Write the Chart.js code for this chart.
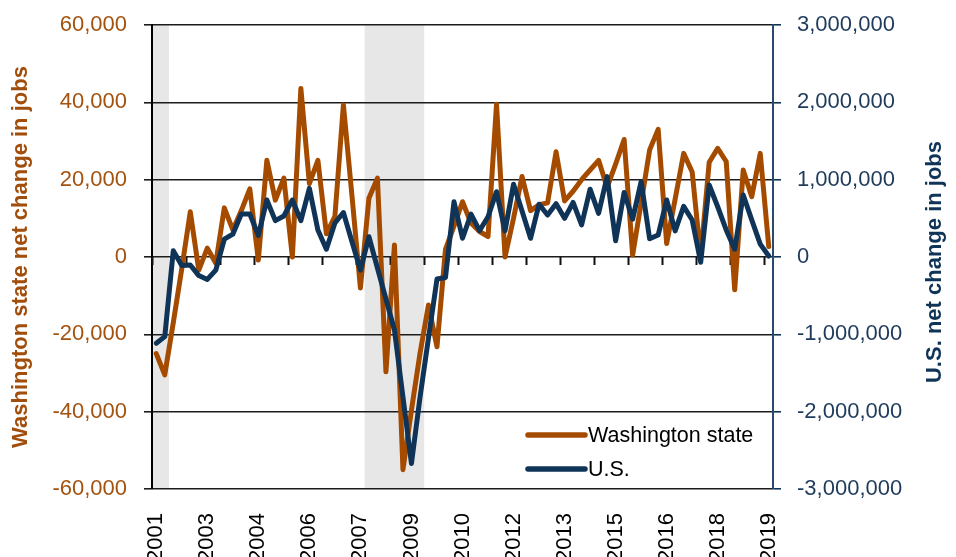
<!DOCTYPE html>
<html>
<head>
<meta charset="utf-8">
<title>Net change in jobs</title>
<script src="https://cdn.jsdelivr.net/npm/chart.js@4.4.1/dist/chart.umd.min.js"></script>
<style>
  html, body { margin: 0; padding: 0; background: #fff; }
  #wrap { width: 956px; height: 557px; }
</style>
</head>
<body>
<div id="wrap"><canvas id="jobs" width="956" height="557"></canvas></div>
<script>
// quarterly categories, 2001 Q3 .. 2019 Q3
const quarters = [
  '2001 Q3', '2001 Q4',
  '2002 Q1', '2002 Q2', '2002 Q3', '2002 Q4',
  '2003 Q1', '2003 Q2', '2003 Q3', '2003 Q4',
  '2004 Q1', '2004 Q2', '2004 Q3', '2004 Q4',
  '2005 Q1', '2005 Q2', '2005 Q3', '2005 Q4',
  '2006 Q1', '2006 Q2', '2006 Q3', '2006 Q4',
  '2007 Q1', '2007 Q2', '2007 Q3', '2007 Q4',
  '2008 Q1', '2008 Q2', '2008 Q3', '2008 Q4',
  '2009 Q1', '2009 Q2', '2009 Q3', '2009 Q4',
  '2010 Q1', '2010 Q2', '2010 Q3', '2010 Q4',
  '2011 Q1', '2011 Q2', '2011 Q3', '2011 Q4',
  '2012 Q1', '2012 Q2', '2012 Q3', '2012 Q4',
  '2013 Q1', '2013 Q2', '2013 Q3', '2013 Q4',
  '2014 Q1', '2014 Q2', '2014 Q3', '2014 Q4',
  '2015 Q1', '2015 Q2', '2015 Q3', '2015 Q4',
  '2016 Q1', '2016 Q2', '2016 Q3', '2016 Q4',
  '2017 Q1', '2017 Q2', '2017 Q3', '2017 Q4',
  '2018 Q1', '2018 Q2', '2018 Q3', '2018 Q4',
  '2019 Q1', '2019 Q2', '2019 Q3'
]

// Washington state net change in jobs (left axis)
const waJobs = [
  -25000, -30500, -17000, -3000, 11700, -3400, 2300, -1600, 12700, 7000, 12000, 17600,
  -800, 25000, 14700, 20400, 0, 43600, 19000, 25000, 6000, 10500, 39300, 16000,
  -8000, 15200, 20400, -29700, 3100, -55000, -39600, -25000, -12400, -23200, 2000, 8000,
  14300, 8800, 6600, 5300, 39500, 0, 10000, 20800, 12000, 13500, 14000, 27200,
  14500, 17000, 20000, 22500, 25000, 18000, 24000, 30400, 500, 14000, 27700, 33000,
  3500, 15000, 26800, 22000, 0, 24500, 28100, 24700, -8500, 22500, 15600, 26800,
  2700
]

// U.S. net change in jobs (right axis)
const usJobs = [
  -1116000, -1030000, 80000, -110000, -103000, -240000, -290000, -170000, 230000, 295000, 555000, 555000,
  280000, 737000, 470000, 530000, 737000, 470000, 888000, 350000, 100000, 440000, 575000, 200000,
  -170000, 262000, -142000, -543000, -944000, -1810000, -2670000, -1820000, -1050000, -285000, -265000, 715000,
  242000, 555000, 340000, 520000, 844000, 338000, 940000, 595000, 242000, 683000, 543000, 690000,
  500000, 705000, 414000, 877000, 565000, 1040000, 210000, 834000, 490000, 974000, 235000, 284000,
  737000, 338000, 655000, 478000, -67000, 931000, 650000, 350000, 100000, 802000, 480000, 166000,
  13000
]

// shaded recession quarters (first, last)
const recessions = [['2001 Q3', '2001 Q4'], ['2007 Q4', '2009 Q2']]

const seriesNames = ['Washington state', 'U.S.']
const leftTitle = 'Washington state net change in jobs'
const rightTitle = 'U.S. net change in jobs'

const ORANGE = '#A54B00'
const NAVY = '#0F3457'
const FONT = "'Liberation Sans', Arial, sans-serif"

Chart.defaults.font.family = FONT
Chart.defaults.font.size = 22

const fmt = (v) => Number(v).toLocaleString('en-US')

// gray recession bands behind everything
const recessionBands = {
  id: 'recessionBands',
  beforeDraw(chart) {
    const { ctx, chartArea, scales: { x } } = chart
    const half = (x.getPixelForValue(1) - x.getPixelForValue(0)) / 2
    ctx.save()
    ctx.fillStyle = '#E7E7E7'
    recessions.forEach(([from, to]) => {
      const x0 = Math.max(chartArea.left, x.getPixelForValue(quarters.indexOf(from)) - half)
      const x1 = Math.min(chartArea.right, x.getPixelForValue(quarters.indexOf(to)) + half)
      ctx.fillRect(x0, chartArea.top, x1 - x0, chartArea.bottom - chartArea.top)
    })
    ctx.restore()
  }
}

// small yearly tick marks hanging off the zero line
const zeroTicks = {
  id: 'zeroTicks',
  beforeDatasetsDraw(chart) {
    const { ctx, scales: { x, y } } = chart
    const half = (x.getPixelForValue(1) - x.getPixelForValue(0)) / 2
    const y0 = y.getPixelForValue(0)
    ctx.save()
    ctx.strokeStyle = '#111'
    ctx.lineWidth = 2
    ctx.beginPath()
    for (let i = 0; i < quarters.length; i += 4) {
      const px = Math.round(x.getPixelForValue(i) - half) + 0.5
      ctx.moveTo(px, y0)
      ctx.lineTo(px, y0 + 8)
    }
    ctx.stroke()
    ctx.restore()
  }
}

// legend inside the plot, bottom right, plus the right-hand title (reads bottom to top)
const extras = {
  id: 'extras',
  afterDraw(chart) {
    const { ctx, chartArea } = chart
    ctx.save()
    const x0 = chartArea.right - 245
    chart.data.datasets.forEach((ds, r) => {
      const yy = chartArea.bottom - 54 + r * 34
      ctx.strokeStyle = ds.borderColor
      ctx.lineWidth = 5.5
      ctx.lineCap = 'round'
      ctx.beginPath()
      ctx.moveTo(x0, yy)
      ctx.lineTo(x0 + 57, yy)
      ctx.stroke()
      ctx.fillStyle = '#000'
      ctx.font = '21.5px ' + FONT
      ctx.textAlign = 'left'
      ctx.textBaseline = 'middle'
      ctx.fillText(ds.label, x0 + 60, yy + 1)
    })

    ctx.translate(chart.width - 21, (chartArea.top + chartArea.bottom) / 2 + 5)
    ctx.rotate(-Math.PI / 2)
    ctx.font = 'bold 22px ' + FONT
    ctx.fillStyle = NAVY
    ctx.textAlign = 'center'
    ctx.textBaseline = 'middle'
    ctx.fillText(rightTitle, 0, 0)
    ctx.restore()
  }
}

// fixed axis widths; drop the auto top/bottom padding the y ticks ask for
const fitY = (w) => (s) => {
  s.width = w
  s.paddingTop = 0
  s.paddingBottom = 0
}

new Chart(document.getElementById('jobs'), {
  type: 'line',
  data: {
    labels: quarters,
    datasets: [
      {
        label: seriesNames[0],
        data: waJobs,
        yAxisID: 'y',
        borderColor: ORANGE,
        borderWidth: 5,
        borderJoinStyle: 'round',
        borderCapStyle: 'round',
        pointRadius: 0,
        tension: 0,
        order: 1,
      },
      {
        label: seriesNames[1],
        data: usJobs,
        yAxisID: 'y1',
        borderColor: NAVY,
        borderWidth: 5,
        borderJoinStyle: 'round',
        borderCapStyle: 'round',
        pointRadius: 0,
        tension: 0,
        order: 0,
      },
    ],
  },
  options: {
    responsive: false,
    animation: false,
    layout: { padding: { top: 25, left: 0, right: 0, bottom: 0 } },
    plugins: {
      legend: { display: false },
      tooltip: { enabled: false },
    },
    scales: {
      x: {
        type: 'category',
        offset: true,
        grid: { display: false, drawTicks: false },
        border: { display: false },
        ticks: {
          autoSkip: false,
          minRotation: 90,
          maxRotation: 90,
          padding: 24,
          color: '#000',
          font: { size: 22 },
          callback: (value, index) => (index % 6 === 0 ? quarters[index].slice(0, 4) : ''),
        },
        afterFit: (s) => { s.height = 68 },
      },
      y: {
        position: 'left',
        min: -60000,
        max: 60000,
        ticks: { stepSize: 20000, color: '#A3520F', padding: 17, font: { size: 22 }, callback: fmt },
        grid: { color: '#1c1c1c', lineWidth: 1.6, tickLength: 8 },
        border: { display: true, color: '#000', width: 2 },
        title: {
          display: true,
          text: leftTitle,
          color: '#A14D0B',
          font: { size: 22, weight: 'bold' },
          padding: { top: 8, bottom: 0 },
        },
        afterFit: fitY(152),
      },
      y1: {
        position: 'right',
        min: -3000000,
        max: 3000000,
        ticks: { stepSize: 1000000, color: '#1F3B5C', padding: 16, font: { size: 22 }, callback: fmt },
        grid: { drawOnChartArea: false, color: NAVY, lineWidth: 1.6, tickLength: 8 },
        border: { display: true, color: '#2A4A70', width: 2 },
        afterFit: fitY(183),
      },
    },
  },
  plugins: [recessionBands, zeroTicks, extras],
})
</script>
</body>
</html>
